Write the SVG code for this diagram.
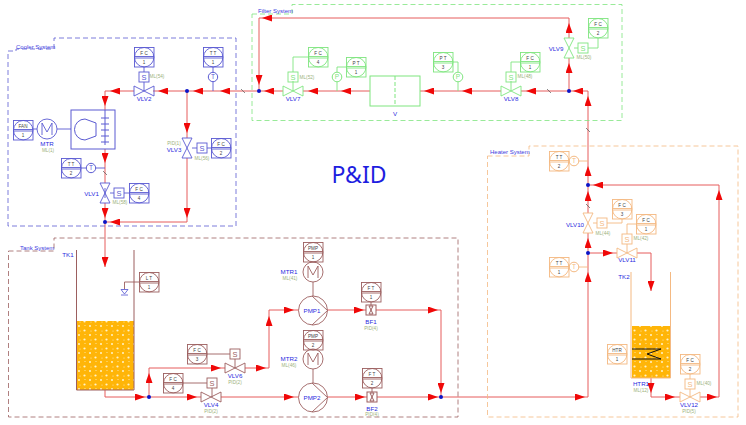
<svg xmlns="http://www.w3.org/2000/svg" width="746" height="425" viewBox="0 0 746 425">
<style>
text{font-family:"Liberation Sans",Arial,sans-serif;text-anchor:middle}
.c{color:#5a5ad2}.f{color:#7fe57f}.h{color:#f4b982}.t{color:#9c5f5f}
.bd{fill:none;stroke:currentColor;stroke-width:.8;stroke-dasharray:5 3}
.sys{fill:#3c3ce0;font-size:6px;text-anchor:start}
.tag{fill:#2a2ae0;font-size:6.2px}
.sub{fill:#9cb27c;font-size:4.7px}
.it{fill:#444;font-size:4.6px}
.st{fill:currentColor;font-size:7.5px}
.tc{fill:currentColor;font-size:6.5px}
.ln{fill:none;stroke:currentColor;stroke-width:.9}
.pipe{fill:none;stroke:#e65c5c;stroke-width:1}
.ar{marker-end:url(#a)}
.brk{fill:none;stroke:#555;stroke-width:.7}
.dot{fill:#0a14c8}
.eq{fill:none;stroke:currentColor;stroke-width:1}
</style>
<defs>
<marker id="a" markerUnits="userSpaceOnUse" markerWidth="10" markerHeight="7" refX="10" refY="3.500" orient="auto"><path d="M0 0L10 3.500L0 7Z" fill="#f00808"/></marker>
<pattern id="bub" patternUnits="userSpaceOnUse" width="11" height="9"><rect width="11" height="9" fill="#ffb508"/><circle cx="2" cy="2" r="1" fill="#fff3c8"/><circle cx="7.500" cy="6.500" r="1.100" fill="#fff3c8"/><circle cx="8" cy="1.500" r=".5" fill="#fff3c8"/><circle cx="3" cy="7" r=".5" fill="#fff3c8"/></pattern>
<g id="inst" class="ln"><rect x=".5" y=".5" width="19.500" height="19.500"/><circle cx="10.200" cy="10.200" r="9.700"/><path d="M.5 9.500H20M.5 11H20"/></g>
<path id="vh" class="ln" d="M-10 -5L10 5V-5L-10 5Z"/>
<path id="vv" class="ln" d="M-5 -10L5 10H-5L5 -10Z"/>
<rect id="sbox" class="ln" width="10" height="10"/>
<g id="mot" class="ln"><circle r="10"/><path d="M-5 6V-6L0 3L5 -6V6"/></g>
<g id="pmp" class="ln"><circle r="14.500"/><path d="M-1 -14.500L14.500 0L-1 14.500"/></g>
</defs>
<rect width="746" height="425" fill="#fff"/>

<g id="connectors">
<g class="pipe">
<path class="ar" d="M259 91H220"/><path class="ar" d="M220 91H193"/><path class="ar" d="M193 91H158"/><path d="M158 91H153"/>
<path class="ar" d="M134 91H110"/><path class="ar" d="M110 91H105V106"/><path d="M105 106V110"/>
<path class="ar" d="M105 149V163"/><path d="M105 163V183"/><path class="ar" d="M105 203V218"/><path d="M105 218V222"/>
<path class="ar" d="M105 222V267"/>
<path class="ar" d="M187 91V133"/><path d="M187 133V138"/><path class="ar" d="M187 158V218"/><path class="ar" d="M187 218V222H110"/><path d="M110 222H105"/>
<path class="ar" d="M569 18H262"/><path class="ar" d="M262 18H259V85"/><path d="M259 85V91"/>
<path class="ar" d="M283 91H264"/><path d="M264 91H259"/>
<path class="ar" d="M337 91H308"/><path d="M308 91H303"/><path class="ar" d="M370 91H341"/><path d="M341 91H337"/>
<path class="ar" d="M458 91H424"/><path d="M424 91H420"/><path class="ar" d="M501 91H462"/><path d="M462 91H458"/>
<path class="ar" d="M569 91H526"/><path d="M526 91H521"/><path class="ar" d="M588 91H573"/><path d="M573 91H569"/>
<path class="ar" d="M569 91V63"/><path d="M569 63V58"/><path class="ar" d="M569 38V23"/><path d="M569 23V18"/>
<path class="ar" d="M588 166V96"/><path d="M588 96V91"/>
<path class="ar" d="M588 185V166"/><path class="ar" d="M588 213V191"/><path d="M588 191V185"/>
<path class="ar" d="M588 253V238"/><path d="M588 238V233"/>
<path class="ar" d="M588 397V272"/><path d="M588 272V253"/>
<path class="ar" d="M588 253H613"/><path d="M613 253H617"/>
<path class="ar" d="M637 253H651V291"/>
<path class="ar" d="M719 397V190"/><path class="ar" d="M719 190V185H593"/><path d="M593 185H588"/>
<path class="ar" d="M651 378V393"/><path class="ar" d="M651 393V397H675"/><path d="M675 397H680"/><path class="ar" d="M700 397H717"/><path d="M717 397H719"/>
<path class="ar" d="M105 390V397H145"/><path d="M145 397H149"/><path class="ar" d="M149 397H197"/><path d="M197 397H201"/>
<path class="ar" d="M149 397V373"/><path class="ar" d="M149 373V368H221"/><path d="M221 368H225"/>
<path class="ar" d="M245 368H266"/><path class="ar" d="M266 368H269V316"/><path class="ar" d="M269 316V310H294"/><path d="M294 310H298.500"/>
<path class="ar" d="M327.500 310H364"/><path d="M364 310H366"/><path class="ar" d="M376 310H438"/><path class="ar" d="M438 310H441V393"/><path d="M441 393V397"/>
<path class="ar" d="M221 397H294"/><path d="M294 397H298.500"/><path class="ar" d="M327.500 397H365"/><path d="M365 397H367"/><path class="ar" d="M377 397H438"/><path d="M438 397H441"/>
<path class="ar" d="M441 397H585"/><path d="M585 397H588"/>
</g>
<g class="brk"><path d="M103 171L107 175M241 89L245 93M547 89L551 93M586 128L590 132M586 204L590 208"/></g>
<g class="c ln"><path d="M144 82V91M144 67V72M213 67V72M213 82V91M81 168H86M96 168H105M105 188V198M110 193H114M124 193H129M192 148H197M207 148H211M33 129H37M57 129H71"/></g>
<g class="f ln"><path d="M293 81V91M293 72V57H308M337 82V91M337 72V67H346M511 81V91M511 72V62H520M458 82V91M458 72V62H453M574 48H578M588 48H598V38"/></g>
<g class="h ln"><path d="M579 161H588M579 267H588M593 223H597M607 223H622V219M627 244V253M627 234V224H636M690 389V397M690 374V379"/></g>
<g class="t ln"><path d="M139 282H124.500V289M183 383H207M212 388V397M207 354H230M235 359V368M313 282V296M313 369V383M371 302V305M372 388V392"/></g>
</g>

<g id="cooler-system" class="c"><path class="bd" d="M8 51H16V49H54V38H236V226H8Z"/><text class="sys" x="16" y="49">Cooler System</text></g>
<g id="filter-system" class="f"><path class="bd" d="M252 14H292V4.500H622V120.500H252Z"/><text class="sys" x="258" y="12.500">Filter System</text></g>
<g id="heater-system" class="h"><path class="bd" d="M487.500 156H529V146H738V417H487.500Z"/><text class="sys" x="490" y="154">Heater System</text></g>
<g id="tank-system" class="t"><path class="bd" d="M8.500 251H54V238H458V417H8.500Z"/><text class="sys" x="20" y="250">Tank System</text></g>

<g id="FAN" class="c"><use href="#inst" x="13" y="120"/><text class="it" x="23" y="127.500">FAN</text><text class="it" x="23" y="136.500">1</text></g>
<g id="MTR" class="c"><use href="#mot" x="47" y="129"/><text class="tag" x="47" y="146">MTR</text><text class="sub" x="48" y="152">ML(1)</text></g>
<g id="CONDENSER" class="c"><rect class="eq" x="71" y="110" width="44" height="39"/><path class="eq" d="M85 119A10.500 10.500 0 0 0 85 140L96 136V123Z"/><path class="eq" d="M101 118H109M101 124H109M101 130H109M101 136H109M101 142H109M105 110V145"/></g>
<g id="TT1-C" class="c"><use href="#inst" x="203" y="47"/><text class="it" x="213" y="54.500">T T</text><text class="it" x="213" y="63.500">1</text><circle class="eq" cx="213" cy="77" r="4.700"/><text class="tc" x="213" y="79.300">T</text></g>
<g id="TT2-C" class="c"><use href="#inst" x="61" y="158"/><text class="it" x="71" y="165.500">T T</text><text class="it" x="71" y="174.500">2</text><circle class="eq" cx="91" cy="168" r="4.700"/><text class="tc" x="91" y="170.300">T</text></g>
<g id="VLV1" class="c"><use href="#vv" x="105" y="193"/><text class="tag" x="91.500" y="196">VLV1</text><use href="#sbox" x="114" y="188"/><text class="st" x="119" y="196">S</text><text class="sub" x="120" y="204">ML(58)</text><use href="#inst" x="129" y="183"/><text class="it" x="139" y="190.500">F C</text><text class="it" x="139" y="199.500">4</text></g>
<g id="VLV2" class="c"><use href="#vh" x="144" y="91"/><text class="tag" x="144" y="100.500">VLV2</text><use href="#sbox" x="139" y="72"/><text class="st" x="144" y="80">S</text><text class="sub" x="157" y="78">ML(54)</text><use href="#inst" x="134" y="47"/><text class="it" x="144" y="54.500">F C</text><text class="it" x="144" y="63.500">1</text></g>
<g id="VLV3" class="c"><use href="#vv" x="187" y="148"/><text class="tag" x="174" y="152">VLV3</text><text class="sub" x="174" y="145">PID(1)</text><use href="#sbox" x="197" y="143"/><text class="st" x="202" y="151">S</text><text class="sub" x="202" y="160">ML(56)</text><use href="#inst" x="211" y="138"/><text class="it" x="221" y="145.500">F C</text><text class="it" x="221" y="154.500">2</text></g>

<g id="VLV7" class="f"><use href="#vh" x="293" y="91"/><text class="tag" x="293" y="100.500">VLV7</text><use href="#sbox" x="288" y="72"/><text class="st" x="293" y="80">S</text><text class="sub" x="307" y="78.500">ML(52)</text><use href="#inst" x="308" y="47"/><text class="it" x="318" y="54.500">F C</text><text class="it" x="318" y="63.500">4</text></g>
<g id="PT1" class="f"><use href="#inst" x="346" y="57"/><text class="it" x="356" y="64.500">P T</text><text class="it" x="356" y="73.500">1</text><circle class="eq" cx="337" cy="77" r="4.800"/><text class="tc" x="337" y="79.300">P</text></g>
<g id="V" class="f"><rect class="eq" x="370" y="76" width="50" height="30"/><path class="eq" stroke-dasharray="4 2" d="M395 76V106"/><text class="tag" x="395" y="116">V</text></g>
<g id="PT3" class="f"><use href="#inst" x="433" y="52"/><text class="it" x="443" y="59.500">P T</text><text class="it" x="443" y="68.500">3</text><circle class="eq" cx="458" cy="77" r="4.800"/><text class="tc" x="458" y="79.300">P</text></g>
<g id="VLV8" class="f"><use href="#vh" x="511" y="91"/><text class="tag" x="511" y="100.500">VLV8</text><use href="#sbox" x="506" y="72"/><text class="st" x="511" y="80">S</text><text class="sub" x="525" y="78">ML(48)</text><use href="#inst" x="520" y="52"/><text class="it" x="530" y="59.500">F C</text><text class="it" x="530" y="68.500">1</text></g>
<g id="VLV9" class="f"><use href="#vv" x="569" y="48"/><text class="tag" x="556" y="51">VLV9</text><use href="#sbox" x="578" y="43"/><text class="st" x="583" y="51">S</text><text class="sub" x="584" y="59">ML(50)</text><use href="#inst" x="588" y="18"/><text class="it" x="598" y="25.500">F C</text><text class="it" x="598" y="34.500">2</text></g>

<g id="TT2-H" class="h"><use href="#inst" x="549" y="151"/><text class="it" x="559" y="158.500">T T</text><text class="it" x="559" y="167.500">2</text><circle class="eq" cx="574" cy="161" r="4.800" fill="#fff"/><text class="tc" x="574" y="163.300">T</text></g>
<g id="TT1-H" class="h"><use href="#inst" x="549" y="257"/><text class="it" x="559" y="264.500">T T</text><text class="it" x="559" y="273.500">1</text><circle class="eq" cx="574" cy="267" r="4.800"/><text class="tc" x="574" y="269.300">T</text></g>
<g id="VLV10" class="h"><use href="#vv" x="588" y="223"/><text class="tag" x="575" y="227">VLV10</text><use href="#sbox" x="597" y="218"/><text class="st" x="602" y="226">S</text><text class="sub" x="603" y="235">ML(44)</text><use href="#inst" x="612" y="199"/><text class="it" x="622" y="206.500">F C</text><text class="it" x="622" y="215.500">3</text></g>
<g id="VLV11" class="h"><use href="#vh" x="627" y="253"/><text class="tag" x="627" y="262">VLV11</text><use href="#sbox" x="622" y="234"/><text class="st" x="627" y="242">S</text><text class="sub" x="641" y="240">ML(42)</text><use href="#inst" x="636" y="214"/><text class="it" x="646" y="221.500">F C</text><text class="it" x="646" y="230.500">1</text></g>
<g id="TK2" class="h"><rect x="632" y="326" width="38.500" height="52" fill="url(#bub)"/><path class="eq" d="M631 272V378H670.500V272"/><text class="tag" x="624" y="279">TK2</text><path fill="none" stroke="#111" stroke-width="1" d="M632 349H661L647 354L661 359H632"/></g>
<g id="HTR" class="h"><use href="#inst" x="607" y="344"/><text class="it" x="617" y="351.500">HTR</text><text class="it" x="617" y="360.500">1</text><text class="tag" x="641" y="386">HTR1</text><text class="sub" x="641" y="392">ML(12)</text></g>
<g id="VLV12" class="h"><use href="#vh" x="690" y="397"/><text class="tag" x="689" y="407">VLV12</text><text class="sub" x="689" y="413">PID(5)</text><use href="#sbox" x="685" y="379"/><text class="st" x="690" y="387">S</text><text class="sub" x="704" y="385">ML(40)</text><use href="#inst" x="680" y="354"/><text class="it" x="690" y="361.500">F C</text><text class="it" x="690" y="370.500">2</text></g>

<g id="TK1" class="t"><rect x="77" y="321" width="57" height="69" fill="url(#bub)"/><path class="eq" d="M76.500 250V390H134V250"/><text class="tag" x="68" y="257">TK1</text></g>
<g id="LT1" class="t"><use href="#inst" x="139" y="272"/><text class="it" x="149" y="279.500">L T</text><text class="it" x="149" y="288.500">1</text></g>
<path id="level-mark" fill="none" stroke="#5050d0" stroke-width=".8" d="M121 289.500H128L124.500 294ZM121 295H128"/>
<g id="VLV4" class="t"><use href="#vh" x="211" y="397"/><text class="tag" x="211" y="407">VLV4</text><text class="sub" x="211" y="413">PID(2)</text><use href="#sbox" x="207" y="378"/><text class="st" x="212" y="386">S</text><use href="#inst" x="163" y="373"/><text class="it" x="173" y="380.500">F C</text><text class="it" x="173" y="389.500">4</text></g>
<g id="VLV6" class="t"><use href="#vh" x="235" y="368"/><text class="tag" x="235" y="378">VLV6</text><text class="sub" x="235" y="384">PID(2)</text><use href="#sbox" x="230" y="349"/><text class="st" x="235" y="357">S</text><use href="#inst" x="187" y="344"/><text class="it" x="197" y="351.500">F C</text><text class="it" x="197" y="360.500">3</text></g>
<g id="PMP1" class="t"><use href="#pmp" x="313" y="310.500"/><text class="tag" x="312" y="313">PMP1</text><use href="#mot" x="313" y="272"/><use href="#inst" x="303" y="242"/><text class="it" x="313" y="249.500">PMP</text><text class="it" x="313" y="258.500">1</text><text class="tag" x="289" y="274">MTR1</text><text class="sub" x="290" y="280">ML(41)</text></g>
<g id="PMP2" class="t"><use href="#pmp" x="313" y="397.500"/><text class="tag" x="312" y="400">PMP2</text><use href="#mot" x="313" y="359"/><use href="#inst" x="303" y="330"/><text class="it" x="313" y="337.500">PMP</text><text class="it" x="313" y="346.500">2</text><text class="tag" x="289" y="361">MTR2</text><text class="sub" x="289" y="367">ML(46)</text></g>
<g id="BF1" class="t"><rect class="eq" x="366" y="305" width="10" height="10"/><path class="eq" d="M369 306L373 314H369L373 306Z"/><use href="#inst" x="361" y="282"/><text class="it" x="371" y="289.500">F T</text><text class="it" x="371" y="298.500">1</text><text class="tag" x="371" y="324">BF1</text><text class="sub" x="371" y="330">PID(4)</text></g>
<g id="BF2" class="t"><rect class="eq" x="367" y="392" width="10" height="10"/><path class="eq" d="M370 393L374 401H370L374 393Z"/><use href="#inst" x="362" y="368"/><text class="it" x="372" y="375.500">F T</text><text class="it" x="372" y="384.500">2</text><text class="tag" x="372" y="411">BF2</text><text class="sub" x="372" y="416">PID(4)</text></g>

<g id="junctions" class="dot"><circle cx="187" cy="91" r="2"/><circle cx="105" cy="222" r="2"/><circle cx="259" cy="91" r="2"/><circle cx="569" cy="91" r="2"/><circle cx="588" cy="185" r="2"/><circle cx="588" cy="253" r="2"/><circle cx="149" cy="397" r="2"/><circle cx="441" cy="397" r="2"/></g>
<text id="title" x="359" y="183" fill="#1e1ee0" style="font-family:'Noto Sans',sans-serif;font-size:23px">P&amp;ID</text>
</svg>
